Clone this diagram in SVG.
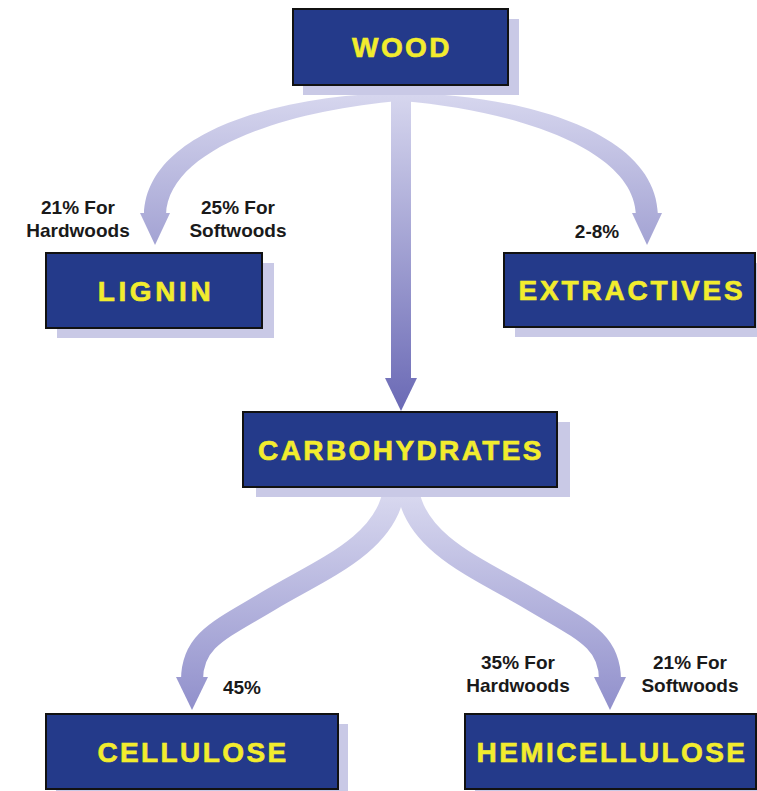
<svg xmlns="http://www.w3.org/2000/svg" width="757" height="791" viewBox="0 0 757 791">
<defs>
<linearGradient id="gUp" gradientUnits="userSpaceOnUse" x1="0" y1="90" x2="0" y2="412">
<stop offset="0" stop-color="#d8d8ef"/><stop offset="1" stop-color="#6a69b5"/>
</linearGradient>
<linearGradient id="gLow" gradientUnits="userSpaceOnUse" x1="0" y1="495" x2="0" y2="712">
<stop offset="0" stop-color="#d8d8ef"/><stop offset="1" stop-color="#908fcb"/>
</linearGradient>
<style>
.shadow{fill:#c9c9e6}
.box{fill:#243a8a;stroke:#111;stroke-width:2}
.t{font-family:"Liberation Sans",Arial,sans-serif;font-weight:bold;font-size:28px;fill:#f2ec2e;stroke:#f2ec2e;stroke-width:0.6;text-anchor:middle;letter-spacing:2.4px}
.lbl{font-family:"Liberation Sans",Arial,sans-serif;font-weight:bold;font-size:19px;fill:#1a1a1a;text-anchor:middle}
</style>
</defs>
<rect width="757" height="791" fill="#fff"/>
<g id="connectors">
<g id="wood-lignin" fill="url(#gUp)">
<path d="M 400 93 C 290 94, 146 128, 144 215 L 166 215 C 168 148, 290 110, 400 101 Z"/>
<polygon points="140,213 170,213 155,245"/>
</g>
<g id="wood-extractives" fill="url(#gUp)" transform="matrix(-1 0 0 1 802 0)">
<path d="M 400 93 C 290 94, 146 128, 144 215 L 166 215 C 168 148, 290 110, 400 101 Z"/>
<polygon points="140,213 170,213 155,245"/>
</g>
<g id="wood-carbohydrates" fill="url(#gUp)">
<rect x="391" y="90" width="20" height="290"/>
<polygon points="385,378 417,378 401,411"/>
</g>
<g id="carbohydrates-cellulose">
<path d="M 394 490 C 386 545, 320 570, 270 600 S 192 640, 192 680" fill="none" stroke="url(#gLow)" stroke-width="22"/>
<polygon points="176,677 208,677 192,710" fill="url(#gLow)"/>
</g>
<g id="carbohydrates-hemicellulose" transform="matrix(-1 0 0 1 802 0)">
<path d="M 394 490 C 386 545, 320 570, 270 600 S 192 640, 192 680" fill="none" stroke="url(#gLow)" stroke-width="22"/>
<polygon points="176,677 208,677 192,710" fill="url(#gLow)"/>
</g>
</g>
<g id="labels">
<text class="lbl" x="78" y="214">21% For</text>
<text class="lbl" x="78" y="237">Hardwoods</text>
<text class="lbl" x="238" y="214">25% For</text>
<text class="lbl" x="238" y="237">Softwoods</text>
<text class="lbl" x="597" y="238">2-8%</text>
<text class="lbl" x="242" y="694">45%</text>
<text class="lbl" x="518" y="669">35% For</text>
<text class="lbl" x="518" y="692">Hardwoods</text>
<text class="lbl" x="690" y="669">21% For</text>
<text class="lbl" x="690" y="692">Softwoods</text>
</g>
<g id="wood">
<rect class="shadow" x="303" y="19" width="216" height="76"/>
<rect class="box" x="293" y="9" width="215" height="76"/>
<text class="t" x="402" y="57">WOOD</text>
</g>
<g id="lignin">
<rect class="shadow" x="57" y="263" width="217" height="75"/>
<rect class="box" x="46" y="253" width="216" height="75"/>
<text class="t" x="156" y="301" style="letter-spacing:3.6px">LIGNIN</text>
</g>
<g id="extractives">
<rect class="shadow" x="515" y="263" width="251" height="74"/>
<rect class="box" x="504" y="253" width="251" height="74"/>
<text class="t" x="632" y="300" style="letter-spacing:2.8px">EXTRACTIVES</text>
</g>
<g id="carbohydrates">
<rect class="shadow" x="256" y="422" width="314" height="75"/>
<rect class="box" x="243" y="412" width="314" height="75"/>
<text class="t" x="401" y="460">CARBOHYDRATES</text>
</g>
<g id="cellulose">
<rect class="shadow" x="56" y="724" width="292" height="75"/>
<rect class="box" x="46" y="714" width="292" height="75"/>
<text class="t" x="193" y="762">CELLULOSE</text>
</g>
<g id="hemicellulose">
<rect class="shadow" x="475" y="724" width="291" height="75"/>
<rect class="box" x="465" y="714" width="291" height="75"/>
<text class="t" x="612" y="762">HEMICELLULOSE</text>
</g>
</svg>
